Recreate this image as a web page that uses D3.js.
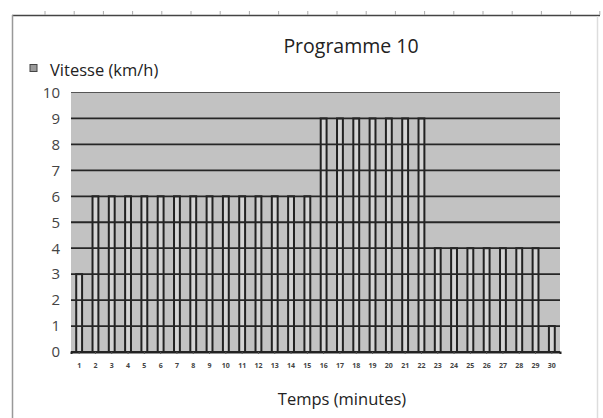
<!DOCTYPE html>
<html>
<head>
<meta charset="utf-8">
<script src="https://cdn.jsdelivr.net/npm/d3@7"></script>
<style>
  body { margin: 0; background: #fff; }
  svg { display: block; font-family: "Open Sans", sans-serif; }
</style>
</head>
<body>
<svg id="drawspace" width="603" height="418"></svg>
<script>
// minutes 1..30 and the speed for each minute
const minutes = d3.range(1, 31).map(String);
const vitesse = [3, 6, 6, 6, 6, 6, 6, 6, 6, 6, 6, 6, 6, 6, 6,
                 9, 9, 9, 9, 9, 9, 9, 4, 4, 4, 4, 4, 4, 4, 1];
const yTicks = [0, 1, 2, 3, 4, 5, 6, 7, 8, 9, 10];

const svg = d3.select("#drawspace");
const margin = { left: 71, right: 43, top: 92.5, bottom: 66 };
const W = 603, H = 418;
const plotW = W - margin.left - margin.right;
const plotH = H - margin.top - margin.bottom;

// page frame (document edge + ruler ticks)
svg.append("line").attr("x1", 12).attr("x2", 600).attr("y1", 15.5).attr("y2", 15.5)
  .attr("stroke", "#444").attr("stroke-width", 1.5);
svg.append("g").selectAll("line").data(d3.range(45, 600, 29.2)).enter().append("line")
  .attr("x1", d => d).attr("x2", d => d).attr("y1", 11).attr("y2", 15)
  .attr("stroke", "#aaa");
svg.append("line").attr("x1", 12.5).attr("x2", 12.5).attr("y1", 15).attr("y2", 418)
  .attr("stroke", "#999").attr("stroke-width", 1.5);
svg.append("line").attr("x1", 597.5).attr("x2", 597.5).attr("y1", 16).attr("y2", 418)
  .attr("stroke", "#ddd").attr("stroke-width", 1.5);

// title
svg.append("text").attr("x", 351).attr("y", 53).attr("text-anchor", "middle")
  .attr("font-size", "19.5px").attr("fill", "#222").text("Programme 10");

// legend
svg.append("rect").attr("x", 30).attr("y", 64.5).attr("width", 7).attr("height", 7)
  .attr("fill", "#9a9a9a").attr("stroke", "#444").attr("stroke-width", 1);
svg.append("text").attr("x", 50).attr("y", 76).attr("font-size", "16.5px")
  .attr("fill", "#222").text("Vitesse (km/h)");

const x = d3.scaleBand().domain(minutes).range([0, plotW]).padding(0);
const y = d3.scaleLinear().domain([0, 10]).range([plotH, 0]);

const g = svg.append("g")
  .attr("transform", "translate(" + margin.left + "," + margin.top + ")");

// plot area
g.append("rect").attr("width", plotW).attr("height", plotH).attr("fill", "#c2c2c2");

// bars
const barW = x.bandwidth() * 0.36;
g.selectAll(".bar")
  .data(vitesse)
  .enter()
  .append("rect")
  .attr("class", "bar")
  .attr("x", (d, i) => x(minutes[i]) + (x.bandwidth() - barW) / 2)
  .attr("y", d => y(d))
  .attr("width", barW)
  .attr("height", d => y(0) - y(d))
  .attr("fill", "#d4d4d4")
  .attr("stroke", "#222")
  .attr("stroke-width", 2);

// gridlines
g.selectAll(".grid")
  .data(yTicks)
  .enter()
  .append("line")
  .attr("class", "grid")
  .attr("x1", 0).attr("x2", plotW)
  .attr("y1", d => y(d)).attr("y2", d => y(d))
  .attr("stroke", d => d === 10 ? "#555" : "#262626")
  .attr("stroke-width", d => d === 10 ? 1.2 : 1.8);

// y axis labels
const yAxis = g.append("g")
  .call(d3.axisLeft(y).tickValues(yTicks).tickSize(0).tickPadding(11));
yAxis.select(".domain").remove();
yAxis.selectAll("text").attr("font-size", "15px").attr("fill", "#444")
  .attr("font-family", "Open Sans, sans-serif");

// x axis
const xAxis = g.append("g")
  .attr("transform", "translate(0," + plotH + ")")
  .call(d3.axisBottom(x).tickSize(2).tickPadding(9));
xAxis.select(".domain").attr("stroke", "#222").attr("stroke-width", 2);
xAxis.selectAll(".tick line").attr("stroke", "#555");
xAxis.selectAll("text").attr("font-size", "7px").attr("fill", "#444")
  .attr("font-weight", "bold")
  .attr("font-family", "Open Sans, sans-serif");

svg.append("text").attr("x", 342).attr("y", 405).attr("text-anchor", "middle")
  .attr("font-size", "16.5px").attr("fill", "#222").text("Temps (minutes)");
</script>
</body>
</html>
